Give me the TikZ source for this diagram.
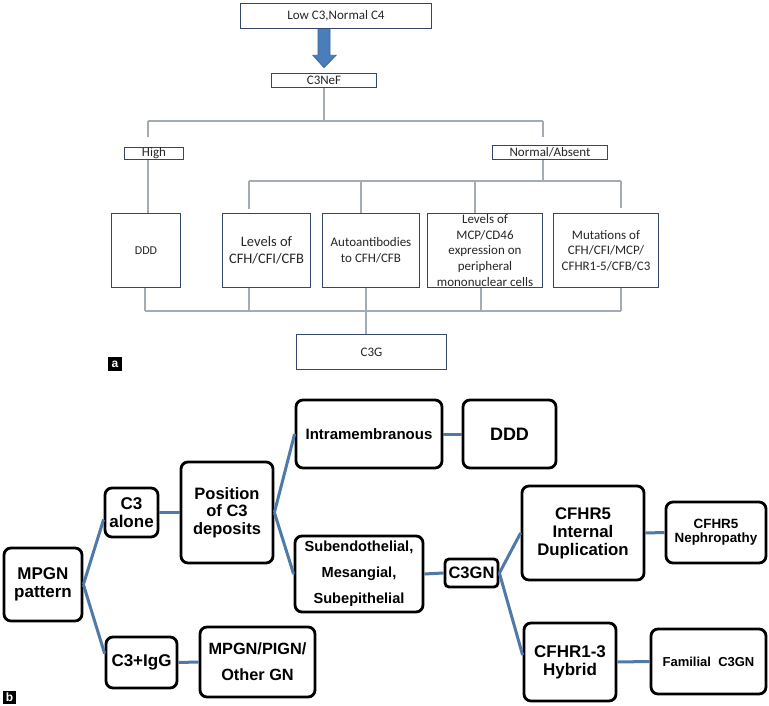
\documentclass[tikz,border=0pt]{standalone}
\usepackage{fontspec}
\setmainfont{Carlito}
\newfontfamily\arialf{Liberation Sans}
\usetikzlibrary{calc}
\definecolor{aboxc}{HTML}{34466A}
\definecolor{alinec}{HTML}{A3ABB4}
\definecolor{atextc}{HTML}{262626}
\definecolor{blinec}{HTML}{4F7AA8}
\definecolor{arrfill}{HTML}{4A7EBB}
\definecolor{arrdraw}{HTML}{3B679A}
\begin{document}
\begin{tikzpicture}[x=1pt,y=-1pt,
 abox/.style={draw=aboxc, line width=1.7pt, inner sep=0pt, align=center, text=atextc, font=\fontsize{13}{15.5}\selectfont},
 bbox/.style={draw=black, line width=2.8pt, rounded corners=7pt, inner sep=0pt, align=center, font=\arialf\bfseries\fontsize{17}{18}\selectfont},
 aconn/.style={draw=alinec, line width=1.1pt},
 bconn/.style={draw=blinec, line width=3pt},
 tagbox/.style={fill=black, text=white, font=\arialf\bfseries\fontsize{12}{12}\selectfont, minimum size=14pt, inner sep=0pt}
]
\useasboundingbox[fill=white] (0,0) rectangle (769,706);

% ---------- part a ----------
\node[abox, minimum width=191pt, minimum height=25pt] (low) at (336,16) {Low C3,Normal C4};
\node[abox, minimum width=105pt, minimum height=14pt] (c3nef) at (324,80.5) {C3NeF};
\node[abox, minimum width=59pt, minimum height=12pt] (high) at (154,153.5) {High};
\node[abox, minimum width=115pt, minimum height=14pt] (norm) at (550,152.5) {Normal/Absent};
\node[abox, minimum width=69pt, minimum height=74pt, font=\fontsize{12}{14}\selectfont] (ddd) at (146,250.5) {DDD};
\node[abox, minimum width=88pt, minimum height=74pt, font=\fontsize{14.5}{17}\selectfont] (lev) at (266.5,250.5) {Levels of\\CFH/CFI/CFB};
\node[abox, minimum width=97pt, minimum height=74pt, font=\fontsize{13}{16}\selectfont] (auto) at (371,250.5) {Autoantibodies\\to CFH/CFB};
\node[abox, minimum width=115pt, minimum height=74pt, font=\fontsize{13}{15.7}\selectfont] (mcp) at (485,250.5) {Levels of\\MCP/CD46\\expression on\\peripheral\\mononuclear cells};
\node[abox, minimum width=105pt, minimum height=74pt, font=\fontsize{13}{15.5}\selectfont] (mut) at (606,250.5) {Mutations of\\CFH/CFI/MCP/\\CFHR1-5/CFB/C3};
\node[abox, minimum width=150pt, minimum height=35pt] (c3g) at (371.5,352) {C3G};

% big arrow
\coordinate (as) at (low.south -| c3nef.north);
\filldraw[fill=arrfill, draw=arrdraw, line width=0.8pt]
  ($(as)+(-6,0)$) -- ($(as)+(6,0)$) -- ($(as)+(6,26)$) -- ($(as)+(12,26)$)
  -- ($(c3nef.north)+(0,-5)$) -- ($(as)+(-11,26)$) -- ($(as)+(-6,26)$) -- cycle;

% connectors a
\coordinate (hbar) at (324,121);
\coordinate (hl) at (148,121);
\coordinate (hr) at (543,121);
\draw[aconn] (c3nef.south) -- (hbar);
\draw[aconn] (hl) -- (hr);
\draw[aconn] (hl) -- ($(hl |- high.north)+(0,-10)$);
\draw[aconn] (hl |- high.south) -- (hl |- ddd.north);
\draw[aconn] (hr) -- ($(hr |- norm.north)+(0,-8)$);
\coordinate (mbr2) at (543,181);
\draw[aconn] (hr |- norm.south) -- (mbr2);
\coordinate (mb1) at (249,181);
\coordinate (mb2) at (361,181);
\coordinate (mb3) at (475,181);
\coordinate (mb4) at (621,181);
\draw[aconn] (mb1) -- (mb4);
\draw[aconn] (mb1) -- ($(mb1 |- lev.north)+(0,-4)$);
\draw[aconn] (mb2) -- (mb2 |- auto.north);
\draw[aconn] (mb3) -- (mb3 |- mcp.north);
\draw[aconn] (mb4) -- ($(mb4 |- mut.north)+(0,-5)$);
\coordinate (bb1) at (145,311);
\coordinate (bb2) at (249,311);
\coordinate (bb3) at (366,311);
\coordinate (bb4) at (481,311);
\coordinate (bb5) at (621,311);
\draw[aconn] (bb1) -- (bb5);
\draw[aconn] (bb1 |- ddd.south) -- (bb1);
\draw[aconn] (bb2 |- lev.south) -- (bb2);
\draw[aconn] (bb3 |- auto.south) -- (bb3);
\draw[aconn] (bb4 |- mcp.south) -- (bb4);
\draw[aconn] (bb5 |- mut.south) -- (bb5);
\draw[aconn] (bb3) -- (bb3 |- c3g.north);

\node[tagbox] (taga) at (115,364) {a};

% ---------- part b ----------
\node[bbox, minimum width=78pt, minimum height=73pt] (mpgn) at (43,584.5) {MPGN\\pattern};
\node[bbox, minimum width=53pt, minimum height=49pt] (c3a) at (131.5,512.5) {C3\\alone};
\node[bbox, minimum width=71pt, minimum height=51pt] (c3igg) at (141.5,662.5) {C3+IgG};
\node[bbox, minimum width=92pt, minimum height=101pt, font=\arialf\bfseries\fontsize{16.5}{17.5}\selectfont] (pos) at (227,512.5) {Position\\of C3\\deposits};
\node[bbox, minimum width=115pt, minimum height=70pt, font=\arialf\bfseries\fontsize{16.3}{26}\selectfont] (other) at (257.5,662) {MPGN/PIGN/\\Other GN};
\node[bbox, minimum width=146pt, minimum height=68pt, font=\arialf\bfseries\fontsize{15}{18}\selectfont] (intra) at (369,434) {Intramembranous};
\node[bbox, minimum width=93pt, minimum height=68pt, font=\arialf\bfseries\fontsize{18}{20}\selectfont] (ddd2) at (509.5,434) {DDD};
\node[bbox, minimum width=128pt, minimum height=76pt, font=\arialf\bfseries\fontsize{14.6}{26}\selectfont] (sub) at (359,574) {Subendothelial,\\Mesangial,\\Subepithelial};
\node[bbox, minimum width=53pt, minimum height=28pt, rounded corners=4pt, font=\arialf\bfseries\fontsize{16.5}{18}\selectfont] (c3gn) at (471.5,573) {C3GN};
\node[bbox, minimum width=122pt, minimum height=94pt, font=\arialf\bfseries\fontsize{16.8}{18}\selectfont] (dup) at (583,533) {CFHR5\\Internal\\Duplication};
\node[bbox, minimum width=100pt, minimum height=61pt, font=\arialf\bfseries\fontsize{13.4}{14}\selectfont] (neph) at (716,532.5) {CFHR5\\Nephropathy};
\node[bbox, minimum width=92pt, minimum height=78pt] (hyb) at (570,662) {CFHR1-3\\Hybrid};
\node[bbox, minimum width=115pt, minimum height=65pt, font=\arialf\bfseries\fontsize{13}{14}\selectfont] (fam) at (708.5,661.5) {Familial\ \ C3GN};

\draw[bconn] (mpgn.east) -- ([yshift=-7pt]c3a.west);
\draw[bconn] (mpgn.east) -- ([yshift=9pt]c3igg.west);
\draw[bconn] (c3a.east) -- (pos.west);
\draw[bconn] (c3igg.east) -- (other.west);
\draw[bconn] (pos.east) -- (intra.west);
\draw[bconn] (pos.east) -- (sub.west);
\draw[bconn] (intra.east) -- (ddd2.west);
\draw[bconn] (sub.east) -- (c3gn.west);
\draw[bconn] (c3gn.east) -- (dup.west);
\draw[bconn] (c3gn.east) -- ([yshift=7pt]hyb.west);
\draw[bconn] (dup.east) -- (neph.west);
\draw[bconn] (hyb.east) -- (fam.west);

\node[tagbox, minimum size=13pt] (tagb) at (9.5,697.5) {b};
\end{tikzpicture}
\end{document}
